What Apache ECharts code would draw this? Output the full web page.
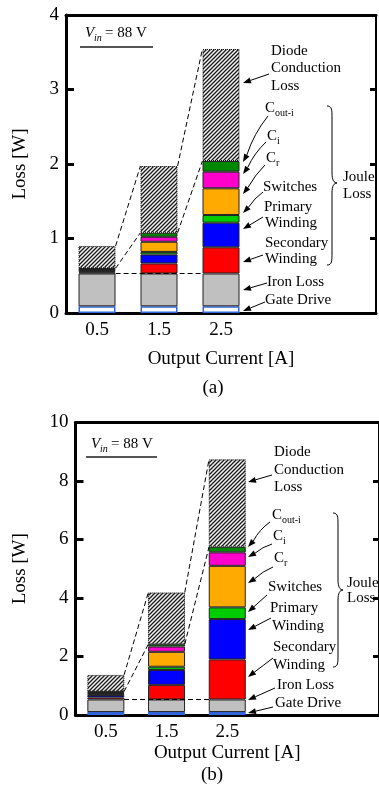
<!DOCTYPE html>
<html><head><meta charset="utf-8">
<script src="https://cdn.jsdelivr.net/npm/echarts@6/dist/echarts.min.js"></script>
<style>html,body{margin:0;padding:0;background:#fff}#c{width:379px;height:796px}</style>
</head><body><div id="c"></div>
<script>
// ---- data ----
const currents = [0.5, 1.5, 2.5];
const xAxisSlots = ['0.5', '1.5', '2.5', '3.5', '4.5'];   // axis runs 0..5 A
const xTickLabels = ['0.5', '1.5', '2.5'];
const seriesNames = ['Gate Drive', 'Iron Loss', 'Secondary Winding', 'Primary Winding', 'Switches', 'C_r', 'C_i', 'C_out-i', 'Diode Conduction Loss'];
// (a)
const gateA  = [0.09, 0.09, 0.09];
const ironA  = [0.44, 0.44, 0.44];
const secA   = [0.015, 0.135, 0.352];
const primA  = [0.015, 0.12, 0.33];
const swA    = [0.01, 0.035, 0.103];
const crA    = [0.01, 0.136, 0.359];
const ciA    = [0.01, 0.067, 0.223];
const coutA  = [0.01, 0.054, 0.143];
const diodeA = [0.30, 0.896, 1.504];
// (b)
const gateB  = [0.10, 0.10, 0.10];
const ironB  = [0.43, 0.43, 0.43];
const secB   = [0.07, 0.50, 1.37];
const primB  = [0.08, 0.51, 1.38];
const swB    = [0.02, 0.11, 0.40];
const crB    = [0.05, 0.51, 1.42];
const ciB    = [0.03, 0.18, 0.46];
const coutB  = [0.02, 0.08, 0.19];
const diodeB = [0.57, 1.77, 2.99];
const yTicksA = [0, 1, 2, 3, 4];
const yTicksB = [0, 2, 4, 6, 8, 10];

// ---- styles ----
const FONT = '"Liberation Serif", "Times New Roman", serif';
function hatch() {
  const c = document.createElement('canvas'); c.width = 4; c.height = 4;
  const g = c.getContext('2d');
  g.fillStyle = '#f4f4f4'; g.fillRect(0, 0, 4, 4);
  g.strokeStyle = '#1a1a1a'; g.lineWidth = 1.3;
  g.beginPath();
  g.moveTo(0, 4); g.lineTo(4, 0);
  g.moveTo(-1, 1); g.lineTo(1, -1);
  g.moveTo(3, 5); g.lineTo(5, 3);
  g.stroke();
  return c;
}
const hatchImg = hatch();
function styles(gateFill) {
  return [
    { color: gateFill, borderColor: '#3366dd', borderWidth: 1.5 },
    { color: '#c0c0c0', borderColor: '#222', borderWidth: 1 },
    { color: '#ff0000', borderColor: '#222', borderWidth: 1 },
    { color: '#0000ff', borderColor: '#222', borderWidth: 1 },
    { color: '#00cc00', borderColor: '#222', borderWidth: 1 },
    { color: '#ffaa00', borderColor: '#222', borderWidth: 1 },
    { color: '#ff00cc', borderColor: '#222', borderWidth: 1 },
    { color: '#008800', borderColor: '#222', borderWidth: 1 },
    { color: { image: hatchImg, repeat: 'repeat' }, borderColor: '#000', borderWidth: 1, borderType: 'dotted' }
  ];
}
const HALF = 0.3;

function cum(arrs, upto) {
  return currents.map((_, i) => arrs.slice(0, upto + 1).reduce((s, a) => s + a[i], 0));
}

function buildSeries(gridIdx, arrs, st, stackName) {
  const out = arrs.map((a, k) => ({
    type: 'bar', name: seriesNames[k], xAxisIndex: gridIdx * 2, yAxisIndex: gridIdx * 2,
    stack: stackName, barWidth: 37, itemStyle: st[k],
    data: a.slice(), silent: true
  }));
  const ironTop = cum(arrs, 1), jouleTop = cum(arrs, 7), total = cum(arrs, 8);
  const lines = [
    [{ coord: [currents[0] + HALF, ironTop[0]] }, { coord: [currents[2] - HALF, ironTop[0]] }]
  ];
  for (let i = 0; i < 2; i++) {
    lines.push([{ coord: [currents[i] + HALF, total[i]] }, { coord: [currents[i + 1] - HALF, total[i + 1]] }]);
    lines.push([{ coord: [currents[i] + HALF, jouleTop[i]] }, { coord: [currents[i + 1] - HALF, jouleTop[i + 1]] }]);
  }
  out.push({
    type: 'line', xAxisIndex: gridIdx * 2 + 1, yAxisIndex: gridIdx * 2, data: [], silent: true,
    markLine: { silent: true, symbol: ['none', 'none'], label: { show: false },
      lineStyle: { type: [5, 3], color: '#000', width: 1 }, data: lines }
  });
  return out;
}

function axesFor(gridIdx, yMax, yInt, nameGapX, nameGapY, labelMargin) {
  const xs = [
    { type: 'category', gridIndex: gridIdx, data: xAxisSlots, boundaryGap: true, position: 'bottom',
      axisLine: { lineStyle: { color: '#000', width: 3 } }, axisTick: { show: false }, splitLine: { show: false },
      axisLabel: { margin: labelMargin, fontFamily: FONT, fontSize: 19, color: '#000', interval: 0,
        formatter: v => (xTickLabels.indexOf(v) >= 0 ? v : '') },
      name: 'Output Current [A]', nameLocation: 'middle', nameGap: nameGapX,
      nameTextStyle: { fontFamily: FONT, fontSize: 19, color: '#000' } },
    { type: 'value', gridIndex: gridIdx, min: 0, max: 5, position: 'top',
      axisLine: { show: true, onZero: false, lineStyle: { color: '#000', width: 3 } }, axisTick: { show: false },
      axisLabel: { show: false }, splitLine: { show: false } }
  ];
  const ys = [
    { type: 'value', gridIndex: gridIdx, min: 0, max: yMax, interval: yInt, position: 'left',
      axisLine: { show: true, lineStyle: { color: '#000', width: 3 } },
      axisTick: { show: true, inside: true, length: 8, lineStyle: { color: '#000', width: 3 } },
      splitLine: { show: false },
      axisLabel: { margin: 7, fontFamily: FONT, fontSize: 19, color: '#000' },
      name: 'Loss [W]', nameLocation: 'middle', nameGap: nameGapY, nameRotate: 90,
      nameTextStyle: { fontFamily: FONT, fontSize: 19, color: '#000' } },
    { type: 'value', gridIndex: gridIdx, min: 0, max: yMax, interval: yInt, position: 'right',
      axisLine: { show: true, onZero: false, lineStyle: { color: '#000', width: 2 } },
      axisTick: { show: true, inside: true, length: 6, lineStyle: { color: '#000', width: 3 } },
      axisLabel: { show: false }, splitLine: { show: false } }
  ];
  return { xs, ys };
}

const axA = axesFor(0, 4, 1, 37, 36, 8);
const axB = axesFor(1, 10, 2, 29, 46, 8);

const arrsA = [gateA, ironA, secA, primA, swA, crA, ciA, coutA, diodeA];
const arrsB = [gateB, ironB, secB, primB, swB, crB, ciB, coutB, diodeB];

// ---- annotation layout (pixels) ----
function txt(t, x, y, size, italic) {
  return { type: 'text', x: x, y: y, silent: true,
    style: { text: t, font: (italic ? 'italic ' : '') + (size || 15) + 'px ' + FONT, fill: '#000',
      verticalAlign: 'middle', align: 'left' } };
}
function subTxt(main, sub, x, y) {
  return [txt(main, x, y, 15), txt(sub, x + 10, y + 5, 10)];
}
function arrow(x1, y1, x2, y2, bend) {
  const dx = x2 - x1, dy = y2 - y1, L = Math.hypot(dx, dy), ux = dx / L, uy = dy / L;
  const hl = 8, hw = 3;
  const bx = x2 - ux * hl, by = y2 - uy * hl;
  const b = bend || 0;
  const mx = (x1 + bx) / 2 - uy * b, my = (y1 + by) / 2 + ux * b;
  return [
    { type: 'bezierCurve', silent: true, shape: { x1, y1, x2: bx, y2: by, cpx1: mx, cpy1: my },
      style: { stroke: '#000', fill: null, lineWidth: 1 } },
    { type: 'polygon', silent: true, shape: { points: [[x2, y2], [bx - uy * hw, by + ux * hw], [bx + uy * hw, by - ux * hw]] },
      style: { fill: '#000' } }
  ];
}
function bez(x1, y1, cx1, cy1, cx2, cy2, x2, y2) {
  return { type: 'bezierCurve', silent: true,
    shape: { x1, y1, x2, y2, cpx1: cx1, cpy1: cy1, cpx2: cx2, cpy2: cy2 },
    style: { stroke: '#000', fill: null, lineWidth: 1 } };
}
function brace(x0, y0, y1, ym, w) {
  const xm = x0 + w / 2, xt = x0 + w;
  return [
    bez(x0, y0, xm, y0, xm, y0 + 4, xm, y0 + 12),
    { type: 'line', silent: true, shape: { x1: xm, y1: y0 + 12, x2: xm, y2: ym - 10 }, style: { stroke: '#000', lineWidth: 1 } },
    bez(xm, ym - 10, xm, ym - 3, xm + 2, ym, xt, ym),
    bez(xt, ym, xm + 2, ym, xm, ym + 3, xm, ym + 10),
    { type: 'line', silent: true, shape: { x1: xm, y1: ym + 10, x2: xm, y2: y1 - 12 }, style: { stroke: '#000', lineWidth: 1 } },
    bez(xm, y1 - 12, xm, y1 - 4, xm, y1, x0, y1)
  ];
}
function vin(x, y, x0, x1, ly) {
  return [
    txt('V', x, y, 15, true),
    txt('in', x + 9, y + 5, 10, true),
    txt('= 88 V', x + 20, y, 15),
    { type: 'line', silent: true, shape: { x1: x0, y1: ly, x2: x1, y2: ly }, style: { stroke: '#555', lineWidth: 2 } }
  ];
}

let graphics = [];
// chart (a)
graphics.push(
  txt('Diode', 271, 51), txt('Conduction', 271, 68), txt('Loss', 271, 86),
  ...subTxt('C', 'out-i', 265, 108), ...subTxt('C', 'i', 267, 136), ...subTxt('C', 'r', 266, 158),
  txt('Switches', 263, 187), txt('Primary', 264, 207), txt('Winding', 265, 223),
  txt('Secondary', 265, 243), txt('Winding', 265, 259), txt('Iron Loss', 267, 282), txt('Gate Drive', 265, 300),
  txt('Joule', 343, 177), txt('Loss', 343, 194),
  ...brace(327, 106, 265, 183, 10)
);
[[269, 74, 243, 83, 0], [268, 116, 243, 162, 4], [266, 142, 243, 174, 3], [265, 165, 243, 194, 2], [263, 192, 243, 213, 2],
 [263, 217, 243, 229, 0], [263, 255, 243, 262, 0], [267, 283, 243, 290, 0], [265, 302, 243, 311, 0]]
  .forEach(a => graphics.push(...arrow(...a)));
graphics.push(...vin(85, 33, 80, 153, 47));
// chart (b)
graphics.push(
  txt('Diode', 274, 452), txt('Conduction', 274, 470), txt('Loss', 274, 487),
  ...subTxt('C', 'out-i', 272, 515), ...subTxt('C', 'i', 273, 536), ...subTxt('C', 'r', 274, 558),
  txt('Switches', 268, 587), txt('Primary', 270, 608), txt('Winding', 272, 626),
  txt('Secondary', 273, 647), txt('Winding', 273, 665), txt('Iron Loss', 277, 685), txt('Gate Drive', 275, 703),
  txt('Joule', 347, 583), txt('Loss', 347, 598),
  ...brace(333, 513, 667, 590, 10)
);
[[272, 475, 248, 482, 0], [270, 522, 248, 547, 3], [272, 544, 248, 557, 2], [273, 567, 248, 583, 2], [267, 595, 248, 612, 0],
 [271, 618, 248, 630, 0], [273, 658, 248, 677, 0], [275, 688, 248, 700, 0], [273, 707, 248, 713, 0]]
  .forEach(a => graphics.push(...arrow(...a)));
graphics.push(...vin(91, 444, 86, 157, 457));

const chart = echarts.init(document.getElementById('c'), null, { renderer: 'canvas' });
chart.setOption({
  animation: false,
  backgroundColor: '#fff',
  grid: [
    { left: 66, top: 15, width: 310, height: 298 },
    { left: 75.5, top: 422.5, width: 306.5, height: 292.5 }
  ],
  xAxis: [...axA.xs, ...axB.xs],
  yAxis: [...axA.ys, ...axB.ys],
  title: [
    { text: '(a)', left: 213, top: 388, textAlign: 'center', textVerticalAlign: 'middle',
      textStyle: { fontFamily: FONT, fontSize: 19, fontWeight: 'normal', color: '#000' }, padding: 0 },
    { text: '(b)', left: 212, top: 775, textAlign: 'center', textVerticalAlign: 'middle',
      textStyle: { fontFamily: FONT, fontSize: 19, fontWeight: 'normal', color: '#000' }, padding: 0 }
  ],
  series: [
    ...buildSeries(0, arrsA, styles('#ffffff'), 'a'),
    ...buildSeries(1, arrsB, styles('#4a7ee8'), 'b')
  ],
  graphic: graphics
});
</script></body></html>
